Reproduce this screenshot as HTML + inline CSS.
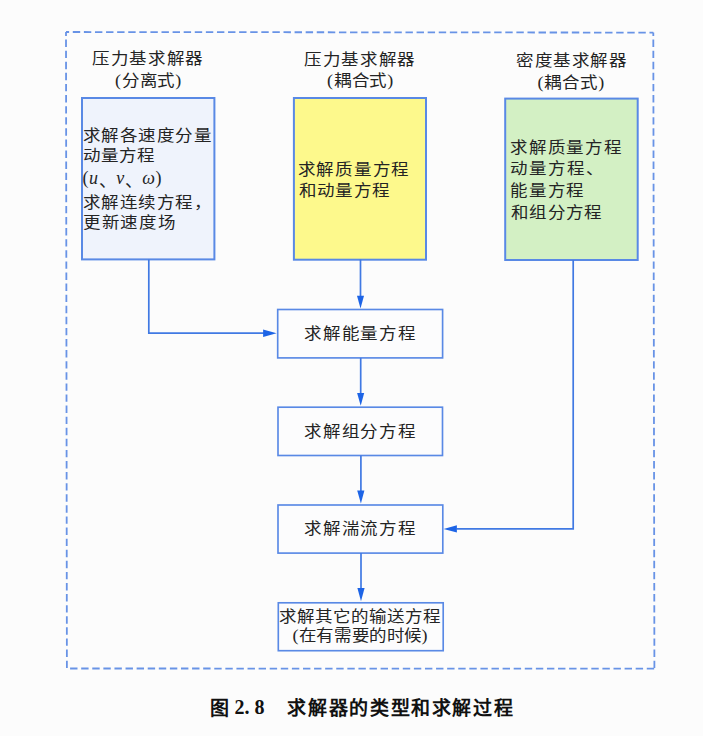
<!DOCTYPE html>
<html lang="zh-CN">
<head>
<meta charset="utf-8">
<title>求解器的类型和求解过程</title>
<style>
html,body{margin:0;padding:0;background:#fcfcfc;}
body{width:703px;height:736px;overflow:hidden;position:relative;}
svg{position:absolute;left:0;top:0;display:block;}
.t{font-family:"Liberation Serif",serif;font-size:17.5px;fill:#242424;}
.c{font-family:"Liberation Sans",sans-serif;font-size:19px;font-weight:bold;fill:#111;}
.cs{font-family:"Liberation Serif",serif;font-size:20px;font-weight:bold;fill:#111;}
</style>
</head>
<body>
<svg width="703" height="736" viewBox="0 0 703 736">
  <!-- outer dashed frame -->
  <g fill="none" stroke="#6893e6" stroke-width="1.8" stroke-dasharray="7.4 3.69">
    <path d="M66 32 L653.3 32.6" stroke-dashoffset="4.3"/>
    <path d="M66 32 L66.9 668.4" stroke-dashoffset="3.5"/>
    <path d="M653.3 32.6 L654.4 668.6" stroke-dashoffset="4.1"/>
    <path d="M66.9 668.5 L654.4 668.6" stroke-dashoffset="7.9"/>
  </g>

  <!-- top boxes -->
  <rect x="82" y="98" width="132.4" height="161.4" fill="#eff3fc" stroke="#5989e5" stroke-width="2"/>
  <rect x="293.9" y="98" width="132.1" height="161.7" fill="#fdf98c" stroke="#5989e5" stroke-width="2"/>
  <rect x="505.2" y="98.6" width="132.5" height="161.4" fill="#d3f0c4" stroke="#5989e5" stroke-width="2"/>

  <!-- middle boxes -->
  <rect x="277.7" y="309.5" width="164.9" height="48.4" fill="#fcfcfd" stroke="#5989e5" stroke-width="1.65"/>
  <rect x="278" y="407.2" width="164.5" height="48.3" fill="#fcfcfd" stroke="#5989e5" stroke-width="1.65"/>
  <rect x="278" y="505" width="164.8" height="48.1" fill="#fcfcfd" stroke="#5989e5" stroke-width="1.65"/>
  <rect x="278.3" y="602.8" width="164.9" height="47.9" fill="#fcfcfd" stroke="#5989e5" stroke-width="1.65"/>

  <!-- connectors -->
  <g stroke="#4079e3" stroke-width="1.7" fill="none">
    <path d="M360.5 259.5 V296.5"/>
    <path d="M360.7 357.9 V394"/>
    <path d="M360.9 455.5 V491"/>
    <path d="M361 553.1 V589"/>
    <path d="M148.8 259.5 V333.2 H264"/>
    <path d="M573.2 260 V528.9 H456.5"/>
  </g>
  <g fill="#1d64e6">
    <path d="M357 295.7 L364 295.7 L360.5 308.4 Z"/>
    <path d="M357.1 393 L364.2 393 L360.7 405.8 Z"/>
    <path d="M357.2 490.5 L364.4 490.5 L360.9 503.5 Z"/>
    <path d="M357.4 588 L364.6 588 L361 601.3 Z"/>
    <path d="M263.1 329.6 L263.1 336.9 L276.6 333.2 Z"/>
    <path d="M456.9 525.3 L456.9 532.5 L443.6 528.9 Z"/>
  </g>

  <text class="t" transform="translate(91.80 64.40) scale(1 0.880)" x="0" y="0" textLength="110.60" lengthAdjust="spacing">压力基求解器</text>
  <text class="t" transform="translate(115.00 85.50) scale(1 0.880)" x="0" y="0" textLength="66.20" lengthAdjust="spacing"><tspan font-size="18">(</tspan>分离式<tspan font-size="18">)</tspan></text>
  <text class="t" transform="translate(303.80 64.55) scale(1 0.880)" x="0" y="0" textLength="110.60" lengthAdjust="spacing">压力基求解器</text>
  <text class="t" transform="translate(327.00 86.15) scale(1 0.880)" x="0" y="0" textLength="66.20" lengthAdjust="spacing"><tspan font-size="18">(</tspan>耦合式<tspan font-size="18">)</tspan></text>
  <text class="t" transform="translate(516.20 65.70) scale(1 0.880)" x="0" y="0" textLength="109.60" lengthAdjust="spacing">密度基求解器</text>
  <text class="t" transform="translate(537.40 87.90) scale(1 0.880)" x="0" y="0" textLength="66.80" lengthAdjust="spacing"><tspan font-size="18">(</tspan>耦合式<tspan font-size="18">)</tspan></text>
  <text class="t" transform="translate(82.80 140.60) scale(1 0.880)" x="0" y="0" textLength="127.80" lengthAdjust="spacing">求解各速度分量</text>
  <text class="t" transform="translate(82.80 161.20) scale(1 0.880)" x="0" y="0" textLength="71.60" lengthAdjust="spacing">动量方程</text>
  <text class="t" x="82.60" y="184.40" textLength="78.80" lengthAdjust="spacing"><tspan font-size="18">(</tspan><tspan font-size="18"><tspan font-style="italic">u</tspan></tspan><tspan dy="3">、</tspan><tspan dy="-3" font-size="18" font-style="italic">v</tspan><tspan dy="3">、</tspan><tspan dy="-3" font-size="18" font-style="italic">ω</tspan><tspan font-size="18">)</tspan></text>
  <text class="t" transform="translate(82.80 207.50) scale(1 0.880)" x="0" y="0" textLength="128.20" lengthAdjust="spacing">求解连续方程，</text>
  <text class="t" transform="translate(82.80 227.85) scale(1 0.880)" x="0" y="0" textLength="92.20" lengthAdjust="spacing">更新速度场</text>
  <text class="t" transform="translate(297.80 174.80) scale(1 0.880)" x="0" y="0" textLength="110.40" lengthAdjust="spacing">求解质量方程</text>
  <text class="t" transform="translate(298.80 195.55) scale(1 0.880)" x="0" y="0" textLength="90.40" lengthAdjust="spacing">和动量方程</text>
  <text class="t" transform="translate(510.20 153.25) scale(1 0.880)" x="0" y="0" textLength="110.40" lengthAdjust="spacing">求解质量方程</text>
  <text class="t" transform="translate(510.20 174.45) scale(1 0.880)" x="0" y="0" textLength="92.40" lengthAdjust="spacing">动量方程、</text>
  <text class="t" transform="translate(510.20 196.00) scale(1 0.880)" x="0" y="0" textLength="73.00" lengthAdjust="spacing">能量方程</text>
  <text class="t" transform="translate(511.20 218.05) scale(1 0.880)" x="0" y="0" textLength="90.20" lengthAdjust="spacing">和组分方程</text>
  <text class="t" transform="translate(304.20 339.15) scale(1 0.880)" x="0" y="0" textLength="110.60" lengthAdjust="spacing">求解能量方程</text>
  <text class="t" transform="translate(304.20 437.15) scale(1 0.880)" x="0" y="0" textLength="110.60" lengthAdjust="spacing">求解组分方程</text>
  <text class="t" transform="translate(304.20 534.40) scale(1 0.880)" x="0" y="0" textLength="110.60" lengthAdjust="spacing">求解湍流方程</text>
  <text class="t" transform="translate(278.60 622.10) scale(1 0.880)" x="0" y="0" textLength="161.80" lengthAdjust="spacing">求解其它的输送方程</text>
  <text class="t" transform="translate(292.40 641.00) scale(1 0.880)" x="0" y="0" textLength="135.20" lengthAdjust="spacing"><tspan font-size="18">(</tspan>在有需要的时候<tspan font-size="18">)</tspan></text>
  <text class="c" x="209.60" y="714.90">图</text>
  <text class="cs" x="234.60" y="714.10">2. 8</text>
  <text class="c" x="287.20" y="715.30" textLength="225.60" lengthAdjust="spacing">求解器的类型和求解过程</text>
</svg>
</body>
</html>
